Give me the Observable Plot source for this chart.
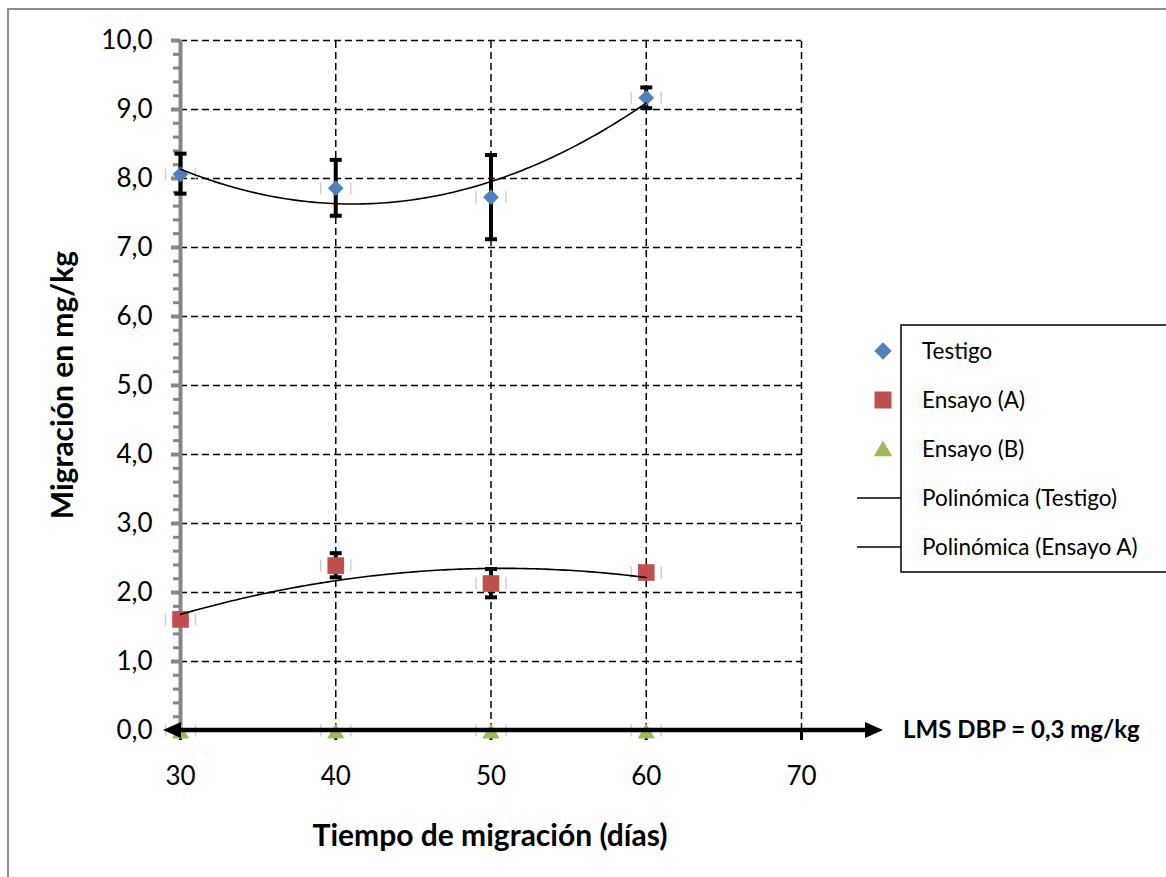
<!DOCTYPE html>
<html><head><meta charset="utf-8">
<script src="https://cdn.jsdelivr.net/npm/d3@7"></script>
<script src="https://cdn.jsdelivr.net/npm/@observablehq/plot@0.6"></script>
<style>body{margin:0;background:#fff} svg{display:block}</style>
</head><body><div id="chart"></div>
<script>
// ---- data ----
const days = [30, 40, 50, 60];
const testigo = [8.06, 7.86, 7.73, 9.17];
const testigoLow = [7.78, 7.46, 7.12, 9.02];
const testigoHigh = [8.36, 8.27, 8.34, 9.32];
const ensayoA = [1.61, 2.39, 2.13, 2.29];
const ensayoALow = [1.56, 2.22, 1.93, 2.24];
const ensayoAHigh = [1.66, 2.57, 2.34, 2.34];
const ensayoB = [0, 0, 0, 0];
const xTicks = [30, 40, 50, 60, 70];
const yTicks = [0, 1, 2, 3, 4, 5, 6, 7, 8, 9, 10];
const yMinorTicks = d3.range(0, 50).map(i => i / 5).filter(v => Math.abs(v - Math.round(v)) > 1e-9);
const seriesNames = ["Testigo", "Ensayo (A)", "Ensayo (B)", "Polinómica (Testigo)", "Polinómica (Ensayo A)"];
const colors = ["#4F81BD", "#C0504D", "#9BBB59"];
const xTitle = "Tiempo de migración (días)";
const yTitle = "Migración en mg/kg";
const limitLabel = "LMS DBP = 0,3 mg/kg";

// ---- tables ----
const rows = (ys, lo, hi) => days.map((x, i) => ({x, y: ys[i], lo: lo ? lo[i] : null, hi: hi ? hi[i] : null}));
const tRows = rows(testigo, testigoLow, testigoHigh);
const aRows = rows(ensayoA, ensayoALow, ensayoAHigh);
const bRows = rows(ensayoB);

// quadratic least-squares trendline (like Excel "Polinómica" order 2)
function polyFit(xs, ys) {
  const S = k => d3.sum(xs, x => x ** k);
  const T = k => d3.sum(xs, (x, i) => x ** k * ys[i]);
  const A = [[S(0), S(1), S(2)], [S(1), S(2), S(3)], [S(2), S(3), S(4)]];
  const b = [T(0), T(1), T(2)];
  const n = 3;
  for (let i = 0; i < n; i++) {
    for (let j = i + 1; j < n; j++) {
      const f = A[j][i] / A[i][i];
      for (let k = i; k < n; k++) A[j][k] -= f * A[i][k];
      b[j] -= f * b[i];
    }
  }
  const c = [0, 0, 0];
  for (let i = n - 1; i >= 0; i--) {
    let s = b[i];
    for (let k = i + 1; k < n; k++) s -= A[i][k] * c[k];
    c[i] = s / A[i][i];
  }
  return x => c[0] + c[1] * x + c[2] * x * x;
}
const fT = polyFit(days, testigo);
const fA = polyFit(days, ensayoA);
const xs = d3.range(30, 60.01, 0.25);
const trendT = xs.map(x => ({x, y: fT(x)}));
const trendA = xs.map(x => ({x, y: fA(x)}));

const cap = w => ({draw(ctx) { ctx.moveTo(-w, 0); ctx.lineTo(w, 0); }});
const vcap = h => ({draw(ctx) { ctx.moveTo(0, -h); ctx.lineTo(0, h); }});
const fmt = d => d.toFixed(1).replace(".", ",");
const FONT = "Lato, 'Open Sans', sans-serif";

const dash = {stroke: "#000", strokeWidth: 1.5, strokeDasharray: "7,4"};

const chart = Plot.plot({
  width: 1166, height: 877,
  marginLeft: 180, marginRight: 365, marginTop: 40, marginBottom: 147,
  x: {domain: [30, 70]},
  y: {domain: [0, 10]},
  style: {fontFamily: FONT, background: "white", color: "#000"},
  marks: [
    Plot.ruleY(yTicks.slice(1), {...dash, x1: 30, x2: 70}),
    Plot.ruleX(xTicks.slice(1), {...dash, y1: 0, y2: 10}),
    Plot.ruleX([30], {y1: 0, y2: 10, stroke: "#868686", strokeWidth: 4}),
    Plot.axisY(yMinorTicks, {tickSize: 7, tickFormat: () => "", stroke: "#868686", strokeWidth: 3, label: null}),
    Plot.axisY(yTicks, {tickSize: 9, tickPadding: 19, tickFormat: fmt, stroke: "#868686", strokeWidth: 4, fill: "#000", fontSize: 26, label: null}),
    Plot.axisX(xTicks, {tickSize: 10, tickPadding: 26, stroke: "#000", strokeWidth: 3, fill: "#000", fontSize: 26, label: null}),
    // faint horizontal error caps
    ...[tRows, aRows, bRows].flatMap(r => [
      Plot.dot(r, {x: "x", y: "y", symbol: vcap(6), stroke: "#cfcfcf", strokeWidth: 1.5, dx: -15}),
      Plot.dot(r, {x: "x", y: "y", symbol: vcap(6), stroke: "#cfcfcf", strokeWidth: 1.5, dx: 15})
    ]),
    // vertical error bars
    ...[tRows, aRows].flatMap(r => [
      Plot.ruleX(r, {x: "x", y1: "lo", y2: "hi", stroke: "#000", strokeWidth: 4}),
      Plot.dot(r, {x: "x", y: "lo", symbol: cap(6), stroke: "#000", strokeWidth: 4}),
      Plot.dot(r, {x: "x", y: "hi", symbol: cap(6), stroke: "#000", strokeWidth: 4})
    ]),
    Plot.dot(tRows, {x: "x", y: "y", symbol: "diamond2", r: 7.1, fill: colors[0]}),
    Plot.dot(aRows, {x: "x", y: "y", symbol: "square", r: 9.4, fill: colors[1]}),
    Plot.dot(bRows, {x: "x", y: "y", symbol: "triangle", r: 6.4, fill: colors[2], dy: 3}),
    Plot.line(trendT, {x: "x", y: "y", stroke: "#000", strokeWidth: 1.6}),
    Plot.line(trendA, {x: "x", y: "y", stroke: "#000", strokeWidth: 1.6})
  ]
});

const svg = d3.select(chart);
const sx = chart.scale("x").apply, sy = chart.scale("y").apply;
const y0 = sy(0);

// outer frame
svg.insert("rect", ":first-child").attr("x", 8).attr("y", 9).attr("width", 1300).attr("height", 1000)
  .attr("fill", "white").attr("stroke", "#8c8c8c").attr("stroke-width", 2);

// x axis line with arrows
const xL = sx(30) - 17, xR = sx(70) + 82;
svg.append("line").attr("x1", xL + 14).attr("x2", xR - 14).attr("y1", y0).attr("y2", y0)
  .attr("stroke", "#000").attr("stroke-width", 4.5);
svg.append("path").attr("d", `M${xL},${y0}L${xL + 18},${y0 - 8}L${xL + 18},${y0 + 8}Z`).attr("fill", "#000");
svg.append("path").attr("d", `M${xR},${y0}L${xR - 18},${y0 - 8}L${xR - 18},${y0 + 8}Z`).attr("fill", "#000");
svg.append("text").attr("x", xR + 20).attr("y", y0).attr("dy", "0.35em").attr("text-anchor", "start")
  .attr("font-family", FONT).attr("font-weight", "bold").attr("font-size", 24).text(limitLabel);

// axis titles
svg.append("text").attr("transform", `translate(62,${(sy(0) + sy(10)) / 2}) rotate(-90)`)
  .attr("text-anchor", "middle").attr("dy", "0.35em")
  .attr("font-family", FONT).attr("font-weight", "bold").attr("font-size", 30).text(yTitle);
svg.append("text").attr("x", 490).attr("y", 835).attr("text-anchor", "middle").attr("dy", "0.35em")
  .attr("font-family", FONT).attr("font-weight", "bold").attr("font-size", 30).text(xTitle);

// legend
const lg = svg.append("g");
lg.append("rect").attr("x", 901).attr("y", 325).attr("width", 400).attr("height", 247)
  .attr("fill", "white").attr("stroke", "#000").attr("stroke-width", 1.5);
const ly = [351, 400, 449, 498, 547];
const symT = d3.symbol(d3.symbolDiamond2, Math.PI * 7.8 * 7.8)();
const symS = d3.symbol(d3.symbolSquare, Math.PI * 9.6 * 9.6)();
const symTr = d3.symbol(d3.symbolTriangle, Math.PI * 6.8 * 6.8)();
lg.append("path").attr("d", symT).attr("transform", `translate(883,${ly[0]})`).attr("fill", colors[0]);
lg.append("path").attr("d", symS).attr("transform", `translate(883,${ly[1]})`).attr("fill", colors[1]);
lg.append("path").attr("d", symTr).attr("transform", `translate(883,${ly[2] + 2})`).attr("fill", colors[2]);
[3, 4].forEach(i => lg.append("line").attr("x1", 857).attr("x2", 901).attr("y1", ly[i]).attr("y2", ly[i])
  .attr("stroke", "#000").attr("stroke-width", 1.6));
seriesNames.forEach((name, i) => lg.append("text").attr("x", 922).attr("y", ly[i]).attr("dy", "0.35em")
  .attr("text-anchor", "start").attr("font-family", FONT).attr("font-size", 22.5).text(name));

document.getElementById("chart").appendChild(chart);
</script>
</body></html>
